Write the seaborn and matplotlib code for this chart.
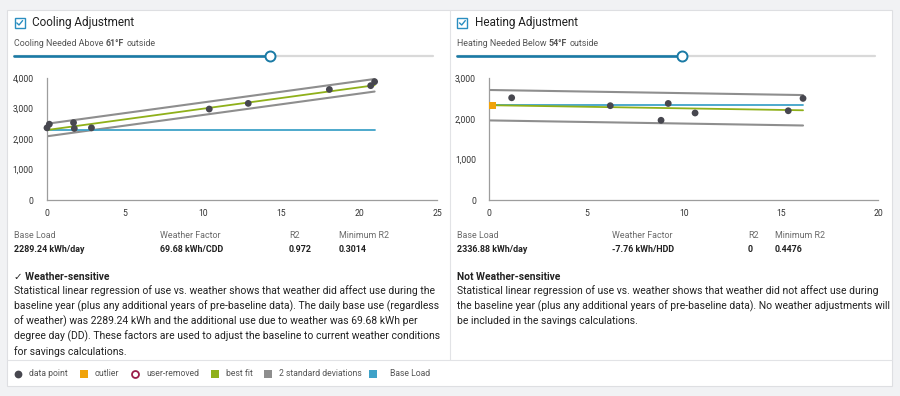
import numpy as np
import pandas as pd
import seaborn as sns
import matplotlib
matplotlib.use('Agg')
import matplotlib.pyplot as plt
from matplotlib.lines import Line2D
from matplotlib.patches import Rectangle
from matplotlib.ticker import FuncFormatter

# ── Data ─────────────────────────────────────────────────────────────
cool_x = [0.0, 0.15, 1.70, 1.75, 2.85, 10.40, 12.90, 18.10, 20.75, 21.00]
cool_y = [2360, 2480, 2530, 2340, 2360, 2975, 3160, 3615, 3740, 3870]
cool_base = 2289.24
cool_factor = 69.68
cool_band = 205          # half width of the 2 std band
cool_r2 = '0.972'
cool_min_r2 = '0.3014'

heat_x = [1.15, 6.22, 8.83, 9.20, 10.58, 15.37, 16.13]
heat_y = [2520, 2325, 1965, 2380, 2145, 2200, 2505]
heat_out_x = [0.15]
heat_out_y = [2330]
heat_base = 2336.88
heat_factor = -7.76
heat_band = 375
heat_r2 = '0'
heat_min_r2 = '0.4476'

cool_text = [
    "Statistical linear regression of use vs. weather shows that weather did affect use during the",
    "baseline year (plus any additional years of pre-baseline data). The daily base use (regardless",
    "of weather) was 2289.24 kWh and the additional use due to weather was 69.68 kWh per",
    "degree day (DD). These factors are used to adjust the baseline to current weather conditions",
    "for savings calculations.",
]
heat_text = [
    "Statistical linear regression of use vs. weather shows that weather did not affect use during",
    "the baseline year (plus any additional years of pre-baseline data). No weather adjustments will",
    "be included in the savings calculations.",
]

legend_labels = ['data point', 'outlier', 'user-removed', 'best fit',
                 '2 standard deviations', 'Base Load']

# ── Colours ──────────────────────────────────────────────────────────
C_POINT = '#47474f'
C_OUT = '#f0a30a'
C_REMOVED = '#9a1d4a'
C_FIT = '#8fb01a'
C_STD = '#8e8e8e'
C_BASE = '#3fa2c8'
C_SLIDER = '#1a7aa5'
C_BOX = '#2a8ec0'
C_LABEL = '#6a6a6a'
C_TEXT = '#222222'

W, H = 900, 396


def fx(x):
    return x / W


def fy(y):
    return 1 - y / H


sns.set_style('white')
plt.rcParams['font.family'] = ['Roboto', 'DejaVu Sans']

fig = plt.figure(figsize=(9, 3.96), dpi=100)
fig.patch.set_facecolor('#f1f2f4')
renderer = fig.canvas.get_renderer()


def rect(x0, y0, x1, y1, fc, ec='none', lw=0.8, z=0):
    fig.add_artist(Rectangle((fx(x0), fy(y1)), fx(x1) - fx(x0), fy(y0) - fy(y1),
                             transform=fig.transFigure, facecolor=fc,
                             edgecolor=ec, lw=lw, zorder=z))


def seg(xs, ys, color, lw, z=1, cap='butt'):
    fig.add_artist(Line2D([fx(v) for v in xs], [fy(v) for v in ys],
                          transform=fig.transFigure, color=color, lw=lw,
                          zorder=z, solid_capstyle=cap, solid_joinstyle='round'))


def marker(x, y, m, ms, fc, ec='none', mew=0.0, z=3):
    fig.add_artist(Line2D([fx(x)], [fy(y)], transform=fig.transFigure,
                          marker=m, ms=ms, mfc=fc, mec=ec, mew=mew,
                          linestyle='none', zorder=z))


def runs(x, y, parts, size, color):
    for s, weight in parts:
        t = fig.text(fx(x), fy(y), s.strip(), fontsize=size, fontweight=weight,
                     color=color, va='center', ha='left')
        x += t.get_window_extent(renderer).width + (2.4 if s.endswith(' ') else 0)


# ── Frame ────────────────────────────────────────────────────────────
rect(7, 10, 892, 386, 'white', ec='#dedfe2', lw=0.8)
seg([7, 892], [359.5, 359.5], '#e2e3e6', 0.8)
seg([450, 450], [10, 359.5], '#e2e3e6', 0.8)


def panel(ox, title, slider_parts, slider_end, knob, ax_rect, xmax, ymax, ystep,
          px, py, base, factor, band, cols, values, heading, lines,
          out_x=None, out_y=None):
    # checkbox + title
    marker(ox + 19.5, 22.8, 's', 7.6, 'white', ec=C_BOX, mew=1.0)
    seg([ox + 16.8, ox + 19.0, ox + 22.6], [22.9, 25.0, 20.6], C_BOX, 1.0, z=4, cap='round')
    fig.text(fx(ox + 32), fy(22.5), title, fontsize=8.5, color=C_TEXT, va='center')

    # slider
    runs(ox + 14, 43, slider_parts, 6.4, '#555555')
    seg([ox + 14, slider_end], [56, 56], '#d9d9d9', 1.6, cap='round')
    seg([ox + 14, knob], [56, 56], C_SLIDER, 1.9, cap='round')
    marker(knob, 56, 'o', 7.2, 'white', ec=C_SLIDER, mew=1.4, z=4)

    # chart
    l, b, w, h = ax_rect
    ax = fig.add_axes([fx(l), fy(b), w / W, h / H])
    ax.set_facecolor('none')

    xs = np.array([0, max(px)])
    fit = base + factor * xs
    sns.lineplot(x=xs, y=fit + band, color=C_STD, lw=1.5, ax=ax)
    sns.lineplot(x=xs, y=fit - band, color=C_STD, lw=1.5, ax=ax)
    sns.lineplot(x=xs, y=[base, base], color=C_BASE, lw=1.3, ax=ax)
    sns.lineplot(x=xs, y=fit, color=C_FIT, lw=1.3, ax=ax)
    sns.scatterplot(x=px, y=py, color=C_POINT, s=24, edgecolor='none',
                    ax=ax, clip_on=False, zorder=5)
    if out_x is not None:
        sns.scatterplot(x=out_x, y=out_y, color=C_OUT, marker='s', s=26,
                        edgecolor='none', ax=ax, clip_on=False, zorder=5)

    ax.set_xlim(0, xmax)
    ax.set_ylim(0, ymax)
    ax.set_xticks(np.arange(0, xmax + 1, 5))
    ax.set_yticks(np.arange(0, ymax + 1, ystep))
    ax.yaxis.set_major_formatter(FuncFormatter(lambda v, p: f'{v:,.0f}'))
    sns.despine(ax=ax)
    for s in ['left', 'bottom']:
        ax.spines[s].set_color('#9d9d9d')
        ax.spines[s].set_linewidth(0.9)
    ax.tick_params(axis='both', length=2.5, width=0.8, color='#9d9d9d',
                   labelsize=6.2, labelcolor='#333333')
    ax.tick_params(axis='y', pad=7)
    ax.tick_params(axis='x', pad=4)
    ax.set_xlabel('')
    ax.set_ylabel('')

    # stats table
    heads = ['Base Load', 'Weather Factor', 'R2', 'Minimum R2']
    for cx, hd, val in zip(cols, heads, values):
        fig.text(fx(cx), fy(236), hd, fontsize=6.4, color=C_LABEL, va='center')
        fig.text(fx(cx), fy(249), val, fontsize=6.4, color=C_TEXT,
                 fontweight='bold', va='center')

    # description
    fig.text(fx(ox + 14), fy(276.5), heading, fontsize=7.4, color=C_TEXT,
             fontweight='bold', va='center')
    for i, line in enumerate(lines):
        fig.text(fx(ox + 14), fy(290.8 + i * 15.2), line, fontsize=7.45,
                 color=C_TEXT, va='center')


panel(0, 'Cooling Adjustment',
      [('Cooling Needed Above ', 'normal'), ('61°F ', 'bold'), ('outside', 'normal')],
      433, 270, (47, 200, 390, 122.3), 25, 4000, 1000,
      cool_x, cool_y, cool_base, cool_factor, cool_band,
      [14, 160, 289, 339],
      [f'{cool_base:.2f} kWh/day', f'{cool_factor:.2f} kWh/CDD', cool_r2, cool_min_r2],
      '✓ Weather-sensitive', cool_text)

panel(442.7, 'Heating Adjustment',
      [('Heating Needed Below ', 'normal'), ('54°F ', 'bold'), ('outside', 'normal')],
      875, 682.3, (489.3, 200, 389, 121.7), 20, 3000, 1000,
      heat_x, heat_y, heat_base, heat_factor, heat_band,
      [457, 612, 748, 775],
      [f'{heat_base:.2f} kWh/day', f'{heat_factor:.2f} kWh/HDD', heat_r2, heat_min_r2],
      'Not Weather-sensitive', heat_text,
      out_x=heat_out_x, out_y=heat_out_y)

# ── Legend row ───────────────────────────────────────────────────────
leg_style = [
    ('o', C_POINT, 'none', 0.0, 5.6),
    ('s', C_OUT, 'none', 0.0, 5.4),
    ('o', 'white', C_REMOVED, 1.3, 5.0),
    ('s', C_FIT, 'none', 0.0, 5.4),
    ('s', C_STD, 'none', 0.0, 5.4),
    ('s', C_BASE, 'none', 0.0, 5.4),
]
leg_marker_x = [18, 84, 135, 215, 268, 373]
leg_text_x = [29, 94.5, 146, 226, 279, 390]
for (m, fc, ec, mew, ms), mxp, txp, lab in zip(leg_style, leg_marker_x, leg_text_x, legend_labels):
    marker(mxp, 373.5, m, ms, fc, ec=ec, mew=mew)
    fig.text(fx(txp), fy(373.5), lab, fontsize=6.2, color='#555555', va='center')

fig.savefig('out.png', dpi=100, facecolor=fig.get_facecolor())
